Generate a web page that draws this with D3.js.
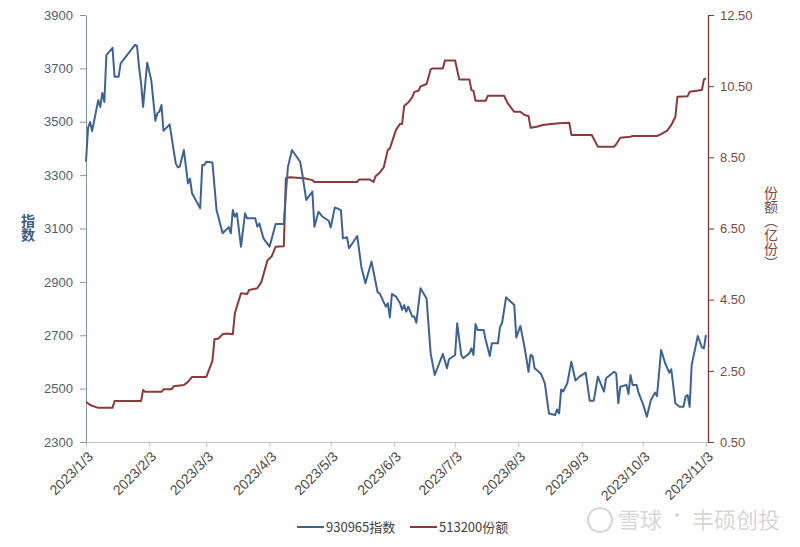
<!DOCTYPE html>
<html>
<head>
<meta charset="utf-8">
<script src="https://cdn.jsdelivr.net/npm/d3@7/dist/d3.min.js"></script>
<style>
  * { margin: 0; padding: 0; }
  body { background: #fff; width: 800px; height: 547px; overflow: hidden; font-family: "Noto Sans CJK SC", "Noto Sans", sans-serif; }
  svg { display: block; }
  .tick text { font-size: 13px; }
  .vtitle { writing-mode: vertical-rl; text-orientation: upright; }
</style>
</head>
<body>
<div id="chart"></div>
<script>
const indexDates = [
  "2023/1/3","2023/1/4","2023/1/5","2023/1/6","2023/1/9","2023/1/10","2023/1/11","2023/1/12","2023/1/13","2023/1/16",
  "2023/1/17","2023/1/19","2023/1/20","2023/1/27","2023/1/28","2023/1/29","2023/1/30","2023/1/31","2023/2/2","2023/2/4",
  "2023/2/6","2023/2/7","2023/2/8","2023/2/9","2023/2/10","2023/2/13","2023/2/16","2023/2/17","2023/2/18","2023/2/20",
  "2023/2/22","2023/2/23","2023/2/24","2023/2/28","2023/3/1","2023/3/2","2023/3/3","2023/3/6","2023/3/8","2023/3/11",
  "2023/3/14","2023/3/15","2023/3/16","2023/3/17","2023/3/18","2023/3/20","2023/3/22","2023/3/23","2023/3/27","2023/3/28",
  "2023/3/29","2023/3/31","2023/4/3","2023/4/6","2023/4/10","2023/4/11","2023/4/12","2023/4/14","2023/4/18","2023/4/19",
  "2023/4/21","2023/4/24","2023/4/25","2023/4/27","2023/4/29","2023/5/2","2023/5/3","2023/5/5","2023/5/8","2023/5/9",
  "2023/5/11","2023/5/12","2023/5/16","2023/5/18","2023/5/20","2023/5/23","2023/5/26","2023/5/27","2023/5/30","2023/5/31",
  "2023/6/1","2023/6/2","2023/6/4","2023/6/6","2023/6/7","2023/6/8","2023/6/9","2023/6/10","2023/6/12","2023/6/13",
  "2023/6/14","2023/6/16","2023/6/19","2023/6/21","2023/6/23","2023/6/27","2023/6/29","2023/6/30","2023/7/3","2023/7/4",
  "2023/7/6","2023/7/7","2023/7/10","2023/7/11","2023/7/12","2023/7/13","2023/7/14","2023/7/17","2023/7/18","2023/7/20",
  "2023/7/21","2023/7/24","2023/7/25","2023/7/26","2023/7/28","2023/8/1","2023/8/2","2023/8/4","2023/8/6","2023/8/8",
  "2023/8/9","2023/8/10","2023/8/11","2023/8/14","2023/8/16","2023/8/18","2023/8/21","2023/8/22","2023/8/23","2023/8/24",
  "2023/8/25","2023/8/27","2023/8/29","2023/8/31","2023/9/2","2023/9/5","2023/9/7","2023/9/9","2023/9/11","2023/9/14",
  "2023/9/15","2023/9/19","2023/9/20","2023/9/21","2023/9/22","2023/9/25","2023/9/26","2023/9/27","2023/9/28","2023/9/30",
  "2023/10/1","2023/10/3","2023/10/5","2023/10/7","2023/10/9","2023/10/10","2023/10/12","2023/10/14","2023/10/16","2023/10/17",
  "2023/10/19","2023/10/21","2023/10/23","2023/10/24","2023/10/25","2023/10/26","2023/10/27","2023/10/30","2023/11/1","2023/11/2",
  "2023/11/3"
];
const indexValues = [
  3350,3477,3499,3465,3581,3555,3608,3574,3750,3777,
  3669,3669,3719,3788,3785,3706,3645,3556,3721,3656,
  3504,3532,3538,3563,3466,3490,3344,3329,3332,3394,
  3269,3287,3232,3176,3338,3338,3350,3347,3169,3082,
  3105,3082,3169,3144,3157,3032,3157,3138,3138,3107,
  3119,3063,3032,3117,3117,3230,3330,3394,3350,3307,
  3207,3238,3107,3163,3144,3129,3104,3179,3169,3063,
  3067,3026,3072,2957,2895,2976,2861,2857,2807,2820,
  2767,2855,2845,2820,2795,2813,2788,2807,2770,2770,
  2747,2876,2838,2632,2551,2630,2576,2610,2626,2745,
  2626,2614,2632,2651,2626,2742,2720,2720,2682,2622,
  2670,2670,2730,2745,2842,2813,2692,2735,2657,2563,
  2626,2622,2576,2557,2520,2407,2401,2422,2407,2497,
  2489,2520,2601,2530,2545,2560,2455,2455,2545,2489,
  2539,2563,2557,2445,2507,2514,2480,2551,2514,2514,
  2483,2445,2395,2457,2485,2472,2645,2595,2560,2572,
  2445,2432,2432,2470,2476,2432,2589,2697,2655,2651,
  2701
];

const shareDates = [
  "2023/1/3","2023/1/5","2023/1/9","2023/1/16","2023/1/17","2023/1/30","2023/1/31","2023/2/1","2023/2/9","2023/2/10",
  "2023/2/14","2023/2/15","2023/2/20","2023/2/22","2023/2/24","2023/3/3","2023/3/6","2023/3/7","2023/3/9","2023/3/11",
  "2023/3/13","2023/3/16","2023/3/17","2023/3/20","2023/3/23","2023/3/24","2023/3/28","2023/3/30","2023/4/2","2023/4/4",
  "2023/4/6","2023/4/10","2023/4/11","2023/4/13","2023/4/20","2023/4/24","2023/4/25","2023/5/16","2023/5/17","2023/5/22",
  "2023/5/24","2023/5/25","2023/5/27","2023/5/29","2023/5/31","2023/6/1","2023/6/4","2023/6/6","2023/6/7","2023/6/8",
  "2023/6/10","2023/6/12","2023/6/13","2023/6/15","2023/6/16","2023/6/19","2023/6/21","2023/6/22","2023/6/27","2023/6/28",
  "2023/7/3","2023/7/5","2023/7/10","2023/7/11","2023/7/12","2023/7/13","2023/7/18","2023/7/19","2023/7/27","2023/7/29",
  "2023/8/1","2023/8/4","2023/8/6","2023/8/8","2023/8/9","2023/8/12","2023/8/15","2023/8/18","2023/8/23","2023/8/28",
  "2023/8/29","2023/9/8","2023/9/11","2023/9/19","2023/9/20","2023/9/22","2023/9/27","2023/9/28","2023/10/10","2023/10/12",
  "2023/10/15","2023/10/17","2023/10/19","2023/10/20","2023/10/25","2023/10/26","2023/11/1","2023/11/2","2023/11/3"
];
const shareValues = [
  1.63,1.54,1.46,1.46,1.65,1.65,1.96,1.91,1.91,1.98,
  1.98,2.07,2.10,2.19,2.33,2.33,2.78,3.39,3.41,3.53,
  3.55,3.53,4.12,4.68,4.66,4.77,4.82,5.00,5.61,5.71,
  5.99,6.00,7.91,7.94,7.91,7.86,7.81,7.81,7.88,7.88,
  7.81,7.97,8.07,8.22,8.71,8.75,9.27,9.44,9.44,9.94,
  10.04,10.19,10.34,10.37,10.49,10.56,10.97,11.00,11.00,11.22,
  11.22,10.69,10.69,10.39,10.37,10.09,10.09,10.23,10.23,10.00,
  9.78,9.78,9.69,9.66,9.33,9.36,9.41,9.43,9.46,9.47,
  9.13,9.13,8.80,8.80,8.87,9.05,9.08,9.10,9.10,9.15,
  9.25,9.41,9.64,10.20,10.22,10.34,10.39,10.69,10.72
];

const monthTicks = ["2023/1/3","2023/2/3","2023/3/3","2023/4/3","2023/5/3","2023/6/3","2023/7/3","2023/8/3","2023/9/3","2023/10/3","2023/11/3"];
const indexTicks = [2300, 2500, 2700, 2900, 3100, 3300, 3500, 3700, 3900];
const shareTicks = [0.5, 2.5, 4.5, 6.5, 8.5, 10.5, 12.5];
const seriesNames = ["930965指数", "513200份额"];

const W = 800, H = 547;
const blue = "#3f6390", red = "#8a3a3a";
const parse = d3.timeParse("%Y/%m/%d");

const svg = d3.select("#chart").append("svg").attr("width", W).attr("height", H);

const x = d3.scaleTime().domain([parse("2023/1/3"), parse("2023/11/4")]).range([86, 708]);
const yL = d3.scaleLinear().domain([2300, 3900]).range([442, 15]);
const yR = d3.scaleLinear().domain([0.5, 12.5]).range([442, 15]);

// bottom axis
const gx = svg.append("g").attr("transform", "translate(0,442)")
  .call(d3.axisBottom(x).tickValues(monthTicks.map(parse)).tickSize(5).tickSizeOuter(0).tickFormat(""));
gx.select(".domain").attr("stroke", "#c4c4c4");
gx.selectAll(".tick line").attr("stroke", "#c4c4c4");
gx.selectAll(".tick").append("text")
  .attr("transform", "translate(4,12) rotate(-45)")
  .attr("text-anchor", "end")
  .attr("dy", "0.35em")
  .attr("fill", "#4a4a4a")
  .style("font-size", "14px")
  .text((d, i) => monthTicks[i]);

// left axis
const gl = svg.append("g").attr("transform", "translate(86,0)")
  .call(d3.axisLeft(yL).tickValues(indexTicks).tickSize(6).tickPadding(7).tickSizeOuter(0).tickFormat(d3.format("d")));
gl.select(".domain").attr("stroke", "#8393a8");
gl.selectAll(".tick line").attr("stroke", "#8393a8");
gl.selectAll(".tick text").attr("fill", "#4f5d6e");

// right axis
const gr = svg.append("g").attr("transform", "translate(708,0)")
  .call(d3.axisRight(yR).tickValues(shareTicks).tickSize(6).tickPadding(6).tickSizeOuter(0).tickFormat(d3.format(".2f")));
gr.select(".domain").attr("stroke", "#7a3434").attr("stroke-width", 1.3);
gr.selectAll(".tick line").attr("stroke", "#7a3434");
gr.selectAll(".tick text").attr("fill", "#7b4848");

// axis titles (vertical text)
svg.append("text").attr("class", "vtitle")
  .attr("x", 28).attr("y", 228).attr("text-anchor", "middle")
  .attr("fill", "#3b5b86").attr("font-size", "14px").attr("font-weight", "bold")
  .text("指数");
svg.append("text").attr("class", "vtitle")
  .attr("x", 771).attr("y", 228).attr("text-anchor", "middle")
  .attr("fill", "#7b4848").attr("font-size", "14px")
  .text("份额︵亿份︶");

// lines
const indexData = indexDates.map((d, i) => ({ date: parse(d), v: indexValues[i] }));
const shareData = shareDates.map((d, i) => ({ date: parse(d), v: shareValues[i] }));

svg.append("path").datum(shareData)
  .attr("fill", "none").attr("stroke", red).attr("stroke-width", 2).attr("stroke-linejoin", "round")
  .attr("d", d3.line().x(d => x(d.date)).y(d => yR(d.v)));
svg.append("path").datum(indexData)
  .attr("fill", "none").attr("stroke", blue).attr("stroke-width", 2).attr("stroke-linejoin", "round")
  .attr("d", d3.line().x(d => x(d.date)).y(d => yL(d.v)));

// legend
const legend = svg.append("g").attr("font-size", "13px").attr("fill", "#404040");
[[297, blue], [410, red]].forEach(([lx, c], i) => {
  legend.append("line").attr("x1", lx).attr("x2", lx + 27).attr("y1", 527).attr("y2", 527)
    .attr("stroke", c).attr("stroke-width", 2);
  legend.append("text").attr("x", lx + 29).attr("y", 527).attr("dy", "0.35em").text(seriesNames[i]);
});

// watermark
const wm = svg.append("g").attr("fill", "#d0d0d0").attr("opacity", 0.85);
wm.append("circle").attr("cx", 600).attr("cy", 520).attr("r", 12).attr("fill", "none").attr("stroke", "#d0d0d0").attr("stroke-width", 2);
wm.append("text").attr("x", 618).attr("y", 528).attr("font-size", "22px").text("雪球");
wm.append("text").attr("x", 668).attr("y", 522).attr("font-size", "18px").text("·");
wm.append("text").attr("x", 692).attr("y", 528).attr("font-size", "22px").text("丰硕创投");
</script>
</body>
</html>
